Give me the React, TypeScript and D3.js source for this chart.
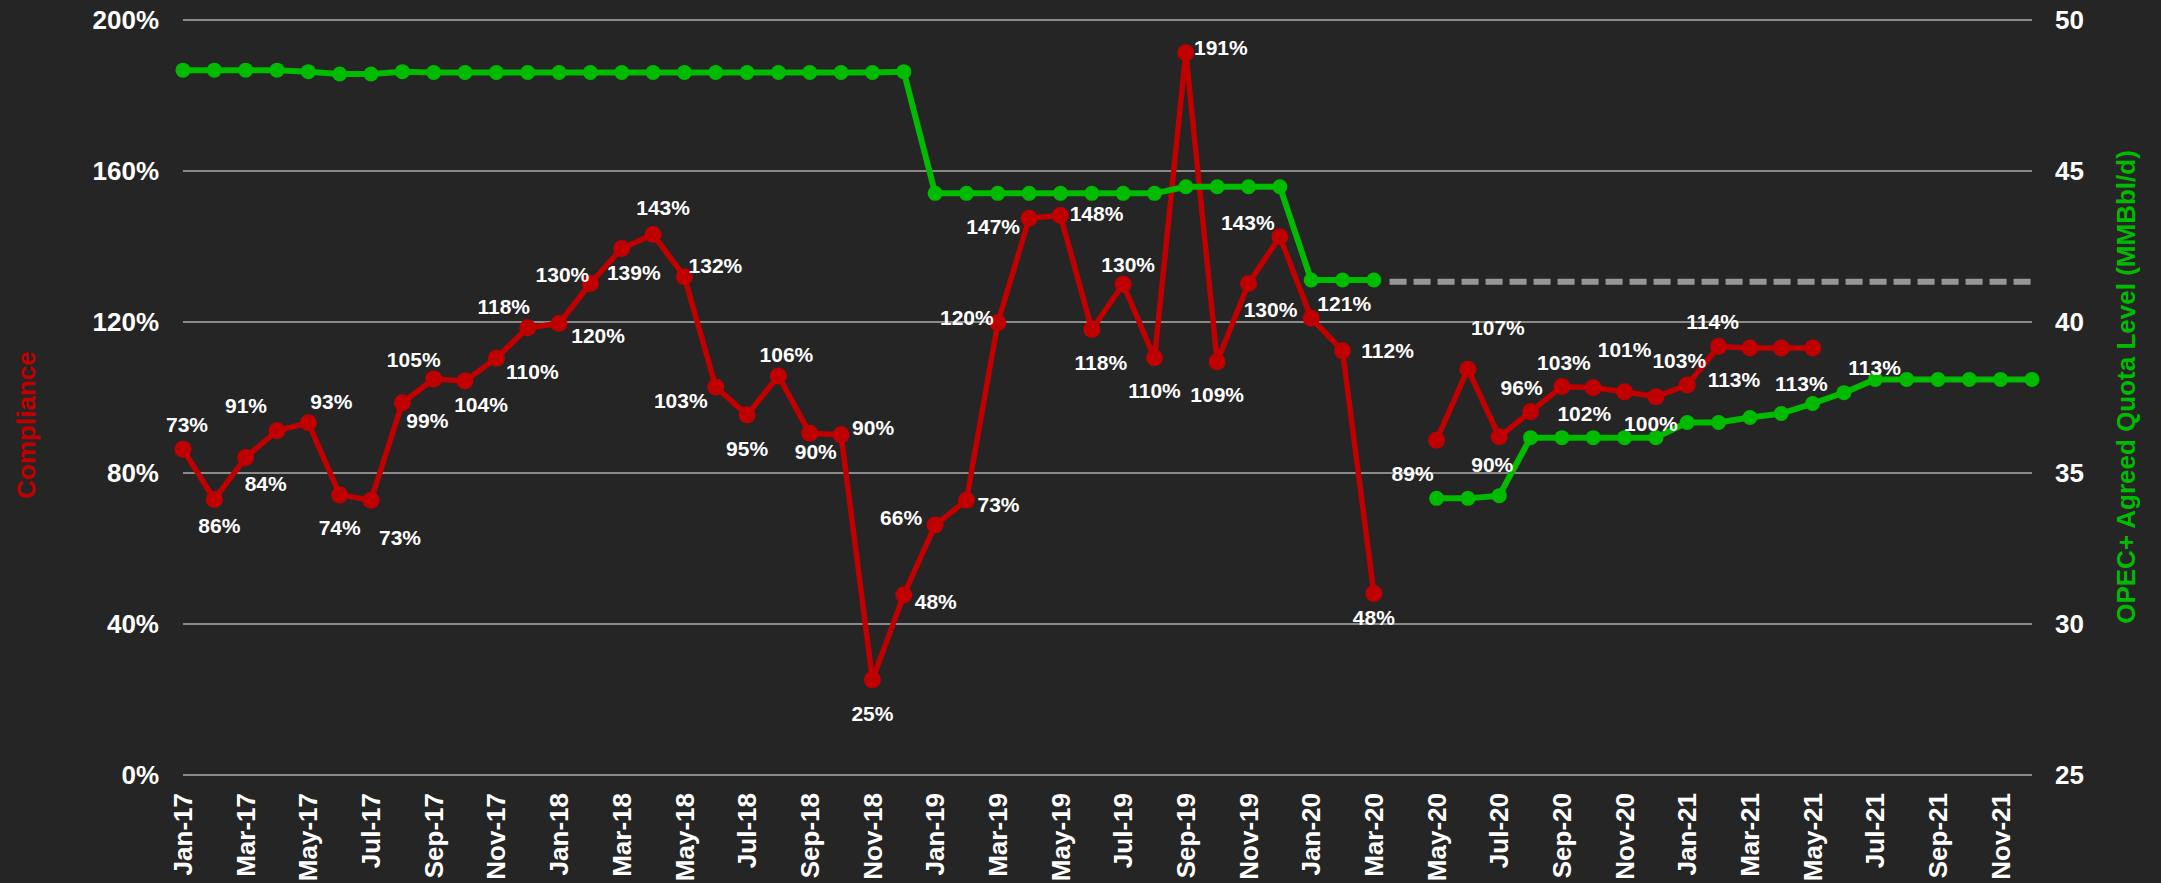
import React from "react";
import * as d3 from "d3";

const months = [
  "Jan-17","Feb-17","Mar-17","Apr-17","May-17","Jun-17","Jul-17","Aug-17","Sep-17","Oct-17","Nov-17","Dec-17",
  "Jan-18","Feb-18","Mar-18","Apr-18","May-18","Jun-18","Jul-18","Aug-18","Sep-18","Oct-18","Nov-18","Dec-18",
  "Jan-19","Feb-19","Mar-19","Apr-19","May-19","Jun-19","Jul-19","Aug-19","Sep-19","Oct-19","Nov-19","Dec-19",
  "Jan-20","Feb-20","Mar-20","Apr-20","May-20","Jun-20","Jul-20","Aug-20","Sep-20","Oct-20","Nov-20","Dec-20",
  "Jan-21","Feb-21","Mar-21","Apr-21","May-21","Jun-21","Jul-21","Aug-21","Sep-21","Oct-21","Nov-21","Dec-21",
];

const tickMonths = [
  "Jan-17","Mar-17","May-17","Jul-17","Sep-17","Nov-17",
  "Jan-18","Mar-18","May-18","Jul-18","Sep-18","Nov-18",
  "Jan-19","Mar-19","May-19","Jul-19","Sep-19","Nov-19",
  "Jan-20","Mar-20","May-20","Jul-20","Sep-20","Nov-20",
  "Jan-21","Mar-21","May-21","Jul-21","Sep-21","Nov-21",
];

// Compliance (%), left axis
const compliance: (number | null)[] = [
  86.3, 73.0, 84.1, 91.2, 93.3, 74.2, 72.8, 98.6, 104.9, 104.4, 110.4, 118.5,
  119.6, 130.2, 139.5, 143.2, 132.0, 102.8, 95.4, 105.7, 90.5, 90.1, 25.2, 47.7,
  66.2, 72.8, 119.8, 147.5, 148.2, 118.0, 130.0, 110.5, 191.3, 109.5, 130.2, 142.6,
  121.0, 112.4, 48.1, null, 88.7, 107.5, 89.6, 96.2, 102.9, 102.6, 101.5, 100.2,
  103.3, 113.5, 113.1, 113.1, 113.1,
];

// Data labels as printed on the chart
const complianceLabels: (string | null)[] = [
  "73%","86%","84%","91%","93%","74%","73%","99%","105%","104%","110%","118%",
  "120%","130%","139%","143%","132%","103%","95%","106%","90%","90%","25%","48%",
  "66%","73%","120%","147%","148%","118%","130%","110%","191%","109%","130%","143%",
  "121%","112%","48%",null,"89%","107%","90%","96%","103%","102%","101%","100%",
  "103%","114%","113%","113%","113%",
];

// OPEC+ agreed quota level (MMBbl/d), right axis
const quota: (number | null)[] = [
  48.34, 48.34, 48.34, 48.34, 48.29, 48.21, 48.21, 48.29, 48.26, 48.26, 48.26, 48.26,
  48.26, 48.26, 48.26, 48.26, 48.26, 48.26, 48.26, 48.26, 48.26, 48.26, 48.26, 48.29,
  44.26, 44.26, 44.26, 44.26, 44.26, 44.26, 44.26, 44.26, 44.48, 44.48, 44.48, 44.48,
  41.39, 41.39, 41.39, null, 34.16, 34.16, 34.25, 36.17, 36.17, 36.17, 36.17, 36.17,
  36.67, 36.67, 36.84, 36.97, 37.3, 37.66, 38.1, 38.1, 38.1, 38.1, 38.1, 38.1,
];

// Reference level (dashed) carried forward from the Jan-20 quota
const referenceLevel = 41.33;
const referenceStart = "Apr-20";
const referenceEnd = "Dec-21";

const leftTicks = [0, 40, 80, 120, 160, 200];
const rightTicks = [25, 30, 35, 40, 45, 50];

// label offsets (layout, px) relative to each point
const labelOffsets: [number, number][] = [
  [4, -25], [5, 26], [20, 26], [-31, -25], [23, -21], [0, 33], [29, 37], [25, 18], [-20, -19], [16, 24], [36, 13], [-24, -21],
  [39, 12], [-28, -9], [12, 24], [10, -27], [31, -11], [-35, 14], [0, 34], [8, -21], [6, 18], [32, -7], [0, 34], [32, 7],
  [-34, -7], [32, 4], [-31, -5], [-36, 8], [36, -2], [9, 33], [5, -20], [0, 33], [35, -5], [0, 33], [22, 26], [-32, -14],
  [33, -15], [45, 0], [0, 24], [0, 0], [-24, 33], [30, -42], [-7, 28], [-9, -24], [2, -24], [-9, 26], [0, -42], [-5, 27],
  [-8, -24], [-6, -25], [-16, 32], [20, 36], [62, 20],
];

const W = 2161;
const H = 883;
const plot = { left: 183, right: 2032, top: 20, bottom: 775 };
const RED = "#c00000";
const GREEN = "#00bb00";
const BG = "#252525";
const GRID = "#8a8a8a";
const FONT = "'Liberation Sans', Arial, Helvetica, sans-serif";

export default function App() {
  const x = d3.scalePoint<string>().domain(months).range([plot.left, plot.right]);
  const yL = d3.scaleLinear().domain([0, 200]).range([plot.bottom, plot.top]);
  const yR = d3.scaleLinear().domain([25, 50]).range([plot.bottom, plot.top]);

  const redLine = d3
    .line<number | null>()
    .defined((d) => d != null)
    .x((_, i) => x(months[i]) as number)
    .y((d) => yL(d as number));
  const greenLine = d3
    .line<number | null>()
    .defined((d) => d != null)
    .x((_, i) => x(months[i]) as number)
    .y((d) => yR(d as number));

  const step = x.step();
  const refX1 = (x(referenceStart) as number) - step / 2;
  const refX2 = x(referenceEnd) as number;

  return (
    <svg
      width={W}
      height={H}
      style={{ position: "absolute", left: 0, top: 0, display: "block" }}
      fontFamily={FONT}
    >
      <rect x={0} y={0} width={W} height={H} fill={BG} />
      {leftTicks.map((t) => (
        <line key={"g" + t} x1={plot.left} x2={plot.right} y1={yL(t)} y2={yL(t)} stroke={GRID} strokeWidth={2} />
      ))}
      {leftTicks.map((t) => (
        <text key={"l" + t} x={159} y={yL(t)} dy="0.35em" textAnchor="end" fill="#fff" fontSize={26} fontWeight="bold">
          {t + "%"}
        </text>
      ))}
      {rightTicks.map((t) => (
        <text key={"r" + t} x={2055} y={yR(t)} dy="0.35em" textAnchor="start" fill="#fff" fontSize={26} fontWeight="bold">
          {t}
        </text>
      ))}
      {tickMonths.map((m) => (
        <text
          key={m}
          transform={`translate(${x(m)},${793}) rotate(-90)`}
          dy="0.35em"
          textAnchor="end"
          fill="#fff"
          fontSize={26}
          fontWeight="bold"
        >
          {m}
        </text>
      ))}
      <text transform={`translate(26,425) rotate(-90)`} dy="0.35em" textAnchor="middle" fill={RED} fontSize={26} fontWeight="bold">
        Compliance
      </text>
      <text transform={`translate(2126,387) rotate(-90)`} dy="0.35em" textAnchor="middle" fill={GREEN} fontSize={26} fontWeight="bold">
        OPEC+ Agreed Quota Level (MMBbl/d)
      </text>

      <line
        x1={refX1}
        x2={refX2}
        y1={yR(referenceLevel)}
        y2={yR(referenceLevel)}
        stroke="#969696"
        strokeWidth={6}
        strokeDasharray="17 7"
      />

      <path d={redLine(compliance) || ""} fill="none" stroke={RED} strokeWidth={5.5} strokeLinejoin="round" />
      {compliance.map((v, i) =>
        v == null ? null : <circle key={"rc" + i} cx={x(months[i])} cy={yL(v)} r={8.5} fill={RED} />
      )}
      <path d={greenLine(quota) || ""} fill="none" stroke={GREEN} strokeWidth={6} strokeLinejoin="round" />
      {quota.map((v, i) =>
        v == null ? null : <circle key={"gc" + i} cx={x(months[i])} cy={yR(v)} r={7.5} fill={GREEN} />
      )}

      {compliance.map((v, i) => {
        const lab = complianceLabels[i];
        if (v == null || lab == null) return null;
        const [dx, dy] = labelOffsets[i];
        return (
          <text
            key={"lb" + i}
            x={(x(months[i]) as number) + dx}
            y={yL(v) + dy}
            dy="0.35em"
            textAnchor="middle"
            fill="#fff"
            fontSize={21}
            fontWeight="bold"
          >
            {lab}
          </text>
        );
      })}
    </svg>
  );
}
